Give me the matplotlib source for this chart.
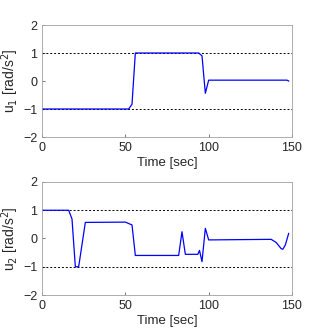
import matplotlib
matplotlib.use("Agg")
import matplotlib.pyplot as plt

plt.rcParams['font.family'] = ['Liberation Sans', 'DejaVu Sans']

# control input u1
t1 = [0, 52, 54, 56, 94, 96, 98, 100, 147, 148]
u1 = [-1, -1, -0.83, 1, 1, 0.9, -0.44, 0.03, 0.03, 0.0]

# control input u2
t2 = [0, 16, 18, 20, 22, 26, 50, 54, 56, 82, 84, 86, 93.5, 94.5, 96, 98, 100,
      137.5, 140.5, 143.5, 144.5, 146, 148]
u2 = [1, 1, 0.69, -1, -1, 0.57, 0.58, 0.48, -0.6, -0.6, 0.24, -0.56, -0.56, -0.42,
      -0.82, 0.36, -0.05, -0.03, -0.14, -0.36, -0.38, -0.23, 0.18]

labels = ['u$_1$ [rad/s$^2$]', 'u$_2$ [rad/s$^2$]']
bounds = [-1, 1]

fig = plt.figure(figsize=(3.23, 3.32), dpi=100)
ax1 = fig.add_axes([42/323, 1 - 137/332, 250/323, 112/332])
ax2 = fig.add_axes([42/323, 1 - 295/332, 250/323, 113/332])

for ax, t, u, lab in zip([ax1, ax2], [t1, t2], [u1, u2], labels):
    for b in bounds:
        ax.axhline(b, color='black', linestyle=(0, (2, 2)), linewidth=0.7)
    ax.plot(t, u, color='blue', linewidth=0.9)
    ax.set_xlim(0, 150)
    ax.set_ylim(-2, 2)
    ax.set_xticks([0, 50, 100, 150])
    ax.set_yticks([-2, -1, 0, 1, 2])
    ax.tick_params(direction='in', length=2.5, labelsize=9, width=0.5,
                   color='#444444', labelcolor='#262626')
    for s in ax.spines.values():
        s.set_color('#a0a0a0')
        s.set_linewidth(0.6)
    ax.set_ylabel(lab, fontsize=10, color='#262626', labelpad=1)
    ax.set_xlabel('Time [sec]', fontsize=9.5, color='#262626', labelpad=2)

fig.savefig('out.png', dpi=100)
